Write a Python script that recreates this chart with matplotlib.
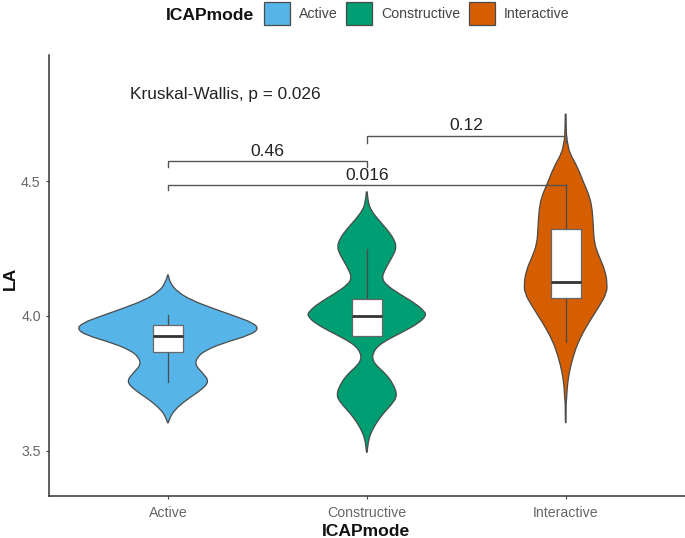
#!/usr/bin/env python3
import numpy as np
import matplotlib
matplotlib.use("Agg")
import matplotlib.pyplot as plt
from matplotlib.patches import Patch, PathPatch, Rectangle
from matplotlib.path import Path

plt.rcParams["font.family"] = ["Liberation Sans", "DejaVu Sans"]

categories = ["Active", "Constructive", "Interactive"]
colors = ["#56B4E9", "#009E73", "#D55E00"]

# violin outlines: LA value, half width in x units
active_y = [4.152, 4.121, 4.090, 4.059, 4.028, 3.998, 3.973, 3.952, 3.930, 3.899,
            3.874, 3.849, 3.819, 3.788, 3.757, 3.726, 3.689, 3.652, 3.627, 3.603]
active_w = [0.001, 0.013, 0.047, 0.117, 0.226, 0.343, 0.432, 0.456, 0.415, 0.276,
            0.193, 0.148, 0.136, 0.176, 0.208, 0.168, 0.092, 0.034, 0.013, 0.001]

constructive_y = [4.460, 4.423, 4.393, 4.356, 4.319, 4.288, 4.257, 4.226, 4.195, 4.164,
                  4.140, 4.115, 4.084, 4.047, 4.016, 4.000, 3.973, 3.942, 3.911, 3.886,
                  3.862, 3.843, 3.819, 3.788, 3.751, 3.707, 3.677, 3.640, 3.603, 3.566,
                  3.534, 3.494]
constructive_w = [0.002, 0.007, 0.020, 0.059, 0.104, 0.134, 0.150, 0.134, 0.109, 0.087,
                  0.076, 0.098, 0.159, 0.243, 0.292, 0.298, 0.260, 0.184, 0.101, 0.052,
                  0.032, 0.028, 0.044, 0.092, 0.131, 0.154, 0.131, 0.084, 0.047, 0.020,
                  0.007, 0.002]

interactive_y = [4.748, 4.670, 4.640, 4.603, 4.553, 4.491, 4.442, 4.393, 4.331, 4.269,
                 4.220, 4.170, 4.121, 4.084, 4.035, 3.973, 3.911, 3.849, 3.788, 3.738,
                 3.695, 3.677, 3.603]
interactive_w = [0.002, 0.003, 0.010, 0.020, 0.059, 0.092, 0.121, 0.134, 0.139, 0.144,
                 0.168, 0.198, 0.209, 0.206, 0.168, 0.114, 0.067, 0.037, 0.017, 0.008,
                 0.005, 0.002, 0.002]

# boxplot stats
q1 = [3.865, 3.927, 4.066]
median = [3.925, 4.000, 4.125]
q3 = [3.965, 4.063, 4.323]
whisker_low = [3.755, 3.927, 3.905]
whisker_high = [4.004, 4.250, 4.490]

# comparison brackets: from, to, bar height, tip height, label, label height
bracket_from = [1, 1, 2]
bracket_to = [2, 3, 3]
bracket_top = [4.574, 4.485, 4.668]
bracket_tip = [4.552, 4.467, 4.640]
bracket_text = ["0.46", "0.016", "0.12"]
bracket_text_y = [4.610, 4.521, 4.704]

kruskal_text = "Kruskal-Wallis, p = 0.026"
y_ticks = [3.5, 4.0, 4.5]

OUTLINE = "#4a4a4a"


def smooth_path(xs, ys):
    """Closed path with quadratic curves running through the point midpoints."""
    pts = np.column_stack([xs, ys])
    verts = [pts[0]]
    codes = [Path.MOVETO]
    for i in range(1, len(pts) - 1):
        mid = (pts[i] + pts[i + 1]) / 2
        verts += [pts[i], mid]
        codes += [Path.CURVE3, Path.CURVE3]
    verts.append(pts[-1])
    codes.append(Path.LINETO)
    verts.append(pts[0])
    codes.append(Path.CLOSEPOLY)
    return Path(verts, codes)


def draw_violin(ax, pos, y, w, color):
    y = np.array(y)
    w = np.array(w)
    xs = np.concatenate([pos - w, (pos + w)[::-1]])
    ys = np.concatenate([y, y[::-1]])
    ax.add_patch(PathPatch(smooth_path(xs, ys), facecolor=color, edgecolor=OUTLINE,
                           lw=0.9, zorder=2))


fig = plt.figure(figsize=(6.85, 5.38), dpi=100)
ax = fig.add_axes([49 / 685, 1 - 496 / 538, 636 / 685, 441 / 538])

violins = [(active_y, active_w), (constructive_y, constructive_w), (interactive_y, interactive_w)]
for i, (y, w) in enumerate(violins):
    pos = i + 1
    draw_violin(ax, pos, y, w, colors[i])
    ax.plot([pos, pos], [whisker_low[i], whisker_high[i]], color=OUTLINE, lw=0.9, zorder=3)
    ax.add_patch(Rectangle((pos - 0.075, q1[i]), 0.15, q3[i] - q1[i], facecolor="white",
                           edgecolor="#666666", lw=0.9, zorder=4))
    ax.plot([pos - 0.075, pos + 0.075], [median[i], median[i]], color="#333333",
            lw=2.0, solid_capstyle="butt", zorder=5)

for a, b, top, tip, txt, ty in zip(bracket_from, bracket_to, bracket_top, bracket_tip,
                                   bracket_text, bracket_text_y):
    ax.plot([a, a, b, b], [tip, top, top, tip], color="#555555", lw=1.0, zorder=6,
            solid_joinstyle="miter")
    ax.text((a + b) / 2, ty, txt, ha="center", va="center", fontsize=12.6,
            color="#222222", zorder=7)

ax.text(0.81, 4.819, kruskal_text, ha="left", va="center", fontsize=12.4, color="#222222")

ax.set_xlim(0.402, 3.6)
ax.set_ylim(3.333, 4.967)
ax.set_xticks([1, 2, 3], categories)
ax.set_yticks(y_ticks, [f"{v:.1f}" for v in y_ticks])
ax.tick_params(axis="both", colors="#444444", labelcolor="#666666", labelsize=10.2,
               length=2.5, width=0.8)
ax.tick_params(axis="x", pad=5)
for spine in ["top", "right"]:
    ax.spines[spine].set_visible(False)
for spine in ["left", "bottom"]:
    ax.spines[spine].set_linewidth(1.1)
    ax.spines[spine].set_color("#333333")

fig.text(366 / 685, 1 - 531 / 538, "ICAPmode", ha="center", va="center",
         fontsize=12.6, fontweight="bold", color="#111111")
fig.text(10 / 685, 1 - 278 / 538, "LA", ha="center", va="center", rotation=90,
         fontsize=12.6, fontweight="bold", color="#111111")

# legend along the top
fig.text(166 / 685, 1 - 15 / 538, "ICAPmode", ha="left", va="center",
         fontsize=12.6, fontweight="bold", color="#111111")
handles = [Patch(facecolor=c, edgecolor=OUTLINE, lw=0.9, label=n)
           for c, n in zip(colors, categories)]
fig.legend(handles=handles, loc="upper left", bbox_to_anchor=(264 / 685, 1 - 2 / 538),
           ncol=3, frameon=False, fontsize=10.2, labelcolor="#444444", borderpad=0,
           borderaxespad=0, handlelength=1.83, handleheight=2.15, handletextpad=0.63,
           columnspacing=0.6)

fig.savefig("out.png", dpi=100)
